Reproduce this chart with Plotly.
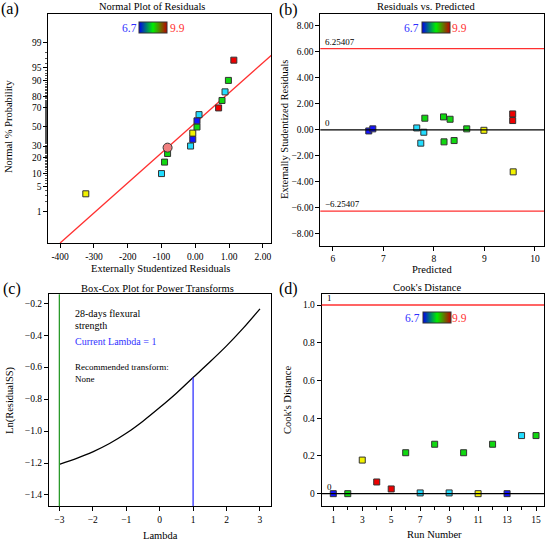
"""Design-Expert style diagnostics: normal plot, residuals, Box-Cox, Cook's distance."""

from statistics import NormalDist

import plotly.graph_objects as go

W, H = 550, 543
FONT = "Liberation Serif"

# (a) normal probability plot of residuals
norm_resid = [-3.24, -1.00, -0.91, -0.82, -0.14, -0.075, -0.075, 0.05, 0.05,
              0.11, 0.69, 0.79, 0.88, 0.98, 1.14]
norm_pct = [3.3, 10.0, 16.7, 23.3, 30.0, 36.7, 43.3, 50.0, 56.7, 63.3, 70.0,
            76.7, 83.3, 90.0, 96.7]
norm_group = ["yellow", "cyan", "green", "green", "cyan", "blue", "yellow",
              "green", "blue", "cyan", "red", "green", "cyan", "green", "red"]
highlight_resid = [-0.82]
highlight_pct = [28.5]
fit_x = [-4.0, 2.3]
fit_pct = [0.07, 97.8]
pct_ticks = [1, 5, 10, 20, 30, 50, 70, 80, 90, 95, 99]
resid_ticks = [-4, -3, -2, -1, 0, 1, 2]
resid_ticktext = ["-400", "-300", "-200", "-100", "0.00", "1.00", "2.00"]

# (b) residuals vs predicted
pred = [6.71, 6.79, 7.66, 7.74, 7.80, 7.82, 8.19, 8.20, 8.32, 8.40, 8.65,
        8.99, 9.56, 9.56, 9.57]
resid_b = [-0.08, 0.08, 0.15, -1.02, -0.18, 0.90, 1.00, -0.92, 0.82, -0.82,
           0.08, -0.03, 1.23, 0.72, -3.23]
group_b = ["blue", "blue", "cyan", "cyan", "cyan", "green", "green", "green",
           "green", "green", "green", "yellow", "red", "red", "yellow"]
resid_limit = 6.25407

# (c) Box-Cox
lambdas = [-3, -2.5, -2, -1.5, -1, -0.5, 0, 0.5, 1, 1.5, 2, 2.5, 3]
ln_ss = [-1.208, -1.172, -1.130, -1.078, -1.014, -0.938, -0.853, -0.763,
         -0.665, -0.568, -0.467, -0.356, -0.235]
current_lambda = 1
low_ci_lambda = -3

# (d) Cook's distance
runs = list(range(1, 16))
cooks = [0.0, 0.0, 0.178, 0.062, 0.025, 0.217, 0.004, 0.262, 0.004, 0.217,
         0.0, 0.262, 0.0, 0.308, 0.308]
group_d = ["blue", "green", "yellow", "red", "red", "green", "cyan", "green",
           "cyan", "green", "yellow", "green", "blue", "cyan", "green"]
cooks_limit = 1.0

palette = {"blue": "#1414ff", "cyan": "#22ddff", "green": "#10d810",
           "yellow": "#f2f200", "red": "#ee0000"}
scale = [[0, "#0000ee"], [0.5, "#00ee00"], [1, "#c00000"]]

probit = NormalDist().inv_cdf


def z(p):
    return probit(p / 100.0)


def px(x):
    return x / W


def py(y):
    return 1 - y / H


def axis(domain, anchor, rng, **kw):
    d = dict(domain=domain, anchor=anchor, range=rng, showline=True,
             linecolor="black", linewidth=1, mirror=True, ticks="outside",
             ticklen=4, tickcolor="black", showgrid=False, zeroline=False,
             tickfont=dict(size=9.5, family=FONT, color="black"))
    d.update(kw)
    return d


def squares(x, y, groups, xa, ya):
    return go.Scatter(
        x=x, y=y, xaxis=xa, yaxis=ya, mode="markers", showlegend=False,
        marker=dict(symbol="square", size=6, color=[palette[g] for g in groups],
                    line=dict(color="#333333", width=1)))


def colorbar_trace(xa, ya, left_px, mid_px):
    return go.Scatter(
        x=[None, None], y=[None, None], xaxis=xa, yaxis=ya, mode="markers",
        showlegend=False,
        marker=dict(color=[6.7, 9.9], cmin=6.7, cmax=9.9, colorscale=scale,
                    showscale=True,
                    colorbar=dict(orientation="h", x=px(left_px), xanchor="left",
                                  y=py(mid_px), yanchor="middle",
                                  lenmode="pixels", len=28, thickness=11,
                                  xpad=0, ypad=0, ticks="", showticklabels=False,
                                  outlinewidth=1, outlinecolor="#333333",
                                  borderwidth=0)))


fig = go.Figure()

# (a)
fig.add_trace(go.Scatter(x=fit_x, y=[z(p) for p in fit_pct], xaxis="x", yaxis="y",
                         mode="lines", showlegend=False,
                         line=dict(color="#ff3030", width=1.3)))
fig.add_trace(squares(norm_resid, [z(p) for p in norm_pct], norm_group, "x", "y"))
fig.add_trace(go.Scatter(x=highlight_resid, y=[z(p) for p in highlight_pct],
                         xaxis="x", yaxis="y", mode="markers", showlegend=False,
                         marker=dict(symbol="circle", size=9, color="#f08080",
                                     line=dict(color="#333333", width=1))))
fig.add_trace(colorbar_trace("x", "y", 139, 27.5))

# (b)
fig.add_trace(squares(pred, resid_b, group_b, "x2", "y2"))
fig.add_trace(colorbar_trace("x2", "y2", 422, 27.5))

# (c)
fig.add_trace(go.Scatter(x=lambdas, y=ln_ss, xaxis="x3", yaxis="y3", mode="lines",
                         showlegend=False,
                         line=dict(color="black", width=1.3, shape="spline",
                                   smoothing=0.8)))
c_range = [-1.471, -0.144]
fig.add_trace(go.Scatter(x=[current_lambda, current_lambda],
                         y=[c_range[0], ln_ss[lambdas.index(current_lambda)]],
                         xaxis="x3", yaxis="y3", mode="lines", showlegend=False,
                         line=dict(color="#3333ff", width=1.3)))

# (d)
fig.add_trace(squares(runs, cooks, group_d, "x4", "y4"))
fig.add_trace(colorbar_trace("x4", "y4", 423, 318))

shapes = [
    dict(type="line", xref="x2 domain", x0=0, x1=1, yref="y2",
         y0=resid_limit, y1=resid_limit, line=dict(color="#ff3030", width=1.3)),
    dict(type="line", xref="x2 domain", x0=0, x1=1, yref="y2",
         y0=-resid_limit, y1=-resid_limit, line=dict(color="#ff3030", width=1.3)),
    dict(type="line", xref="x2 domain", x0=0, x1=1, yref="y2",
         y0=0, y1=0, line=dict(color="black", width=1.3)),
    dict(type="line", xref="x3", x0=low_ci_lambda, x1=low_ci_lambda,
         yref="y3 domain", y0=0, y1=1, line=dict(color="#2a9a2a", width=1.3)),
    dict(type="line", xref="x4 domain", x0=0, x1=1, yref="y4",
         y0=cooks_limit, y1=cooks_limit, line=dict(color="#ff3030", width=1.5)),
    dict(type="line", xref="x4 domain", x0=0, x1=1, yref="y4",
         y0=0, y1=0, line=dict(color="black", width=1.3)),
]

ann = []


def text(x, y, s, size=10.5, color="black", angle=0, xanchor="center"):
    ann.append(dict(x=px(x), y=py(y), xref="paper", yref="paper", text=s,
                    showarrow=False, textangle=angle, xanchor=xanchor,
                    yanchor="middle", font=dict(size=size, family=FONT, color=color)))


def line_label(xa, ya, yv, s):
    ann.append(dict(x=0, xref=xa + " domain", y=yv, yref=ya, text=s, xshift=3,
                    showarrow=False, xanchor="left", yanchor="bottom",
                    font=dict(size=9, family=FONT, color="black")))


# panel letters
for x, y, s in [(10, 9, "(a)"), (288, 10, "(b)"), (12, 289, "(c)"), (288, 289, "(d)")]:
    text(x, y, s, size=16)

# panel titles
text(152, 7, "Normal Plot of Residuals")
text(426, 7, "Residuals vs. Predicted")
text(157, 288, "Box-Cox Plot for Power Transforms")
text(427, 287, "Cook's Distance")

# axis titles
text(160, 268, "Externally Studentized Residuals")
text(432, 269, "Predicted")
text(160, 535, "Lambda")
text(434, 534, "Run Number")
text(9, 127, "Normal % Probability", angle=-90)
text(284, 130, "Externally Studentized Residuals", angle=-90)
text(10, 400, "Ln(ResidualSS)", angle=-90)
text(287, 400, "Cook's Distance", angle=-90)

# colour key labels
for x6, x9, y in [(129, 177, 27.5), (411, 459, 27.5), (412, 460, 318)]:
    text(x6, y, "6.7", size=11.5, color="#3030ff")
    text(x9, y, "9.9", size=11.5, color="#ff3030")

# Box-Cox notes
text(73, 313, "28-days flexural", size=10, xanchor="left")
text(73, 325, "strength", size=10, xanchor="left")
text(73, 342, "Current Lambda = 1", size=10, color="#3333ff", xanchor="left")
text(73, 367, "Recommended transform:", size=9, xanchor="left")
text(73, 379, "None", size=9, xanchor="left")

line_label("x2", "y2", resid_limit, "6.25407")
line_label("x2", "y2", -resid_limit, "\u22126.25407")
line_label("x2", "y2", 0, "0")
line_label("x4", "y4", cooks_limit, "1")
line_label("x4", "y4", 0, "0")

minor_pct = [p for p in range(1, 100) if p not in pct_ticks]

fig.update_layout(
    width=W, height=H, margin=dict(l=0, r=0, t=0, b=0),
    paper_bgcolor="white", plot_bgcolor="white", showlegend=False,
    font=dict(family=FONT, color="black"),
    xaxis=axis([px(48.3), px(271)], "y", [-4.35, 2.24],
               tickvals=resid_ticks, ticktext=resid_ticktext),
    yaxis=axis([py(243.3), py(14.3)], "x", [-3.2, 3.1],
               tickvals=[z(p) for p in pct_ticks],
               ticktext=[str(p) for p in pct_ticks],
               minor=dict(tickmode="array", tickvals=[z(p) for p in minor_pct],
                          ticks="outside", ticklen=2, tickcolor="#555555")),
    xaxis2=axis([px(320.3), px(544)], "y2", [5.75, 10.18],
                tickvals=[6, 7, 8, 9, 10]),
    yaxis2=axis([py(245.5), py(14.3)], "x2", [-8.9, 8.9],
                tickvals=[-8, -6, -4, -2, 0, 2, 4, 6, 8], tickformat=".2f"),
    xaxis3=axis([px(49), px(271)], "y3", [-3.31, 3.33],
                tickvals=[-3, -2, -1, 0, 1, 2, 3]),
    yaxis3=axis([py(506.3), py(294.3)], "x3", c_range,
                tickvals=[-1.4, -1.2, -1.0, -0.8, -0.6, -0.4, -0.2],
                tickformat=".1f"),
    xaxis4=axis([px(321.7), px(544)], "y4", [0.2, 15.55],
                tickvals=list(range(1, 16, 2)),
                minor=dict(dtick=1, tick0=0, ticks="outside", ticklen=3)),
    yaxis4=axis([py(506.3), py(294.3)], "x4", [-0.067, 1.057],
                tickvals=[0, 0.2, 0.4, 0.6, 0.8, 1.0],
                ticktext=["0", "0.2", "0.4", "0.6", "0.8", "1.0"]),
    shapes=shapes,
    annotations=ann,
)

# the page keeps a default 8px body margin; drop it so the figure fills the window
fig.write_html("out.html", config={"displayModeBar": False},
               post_script="document.body.style.margin = '0';")
